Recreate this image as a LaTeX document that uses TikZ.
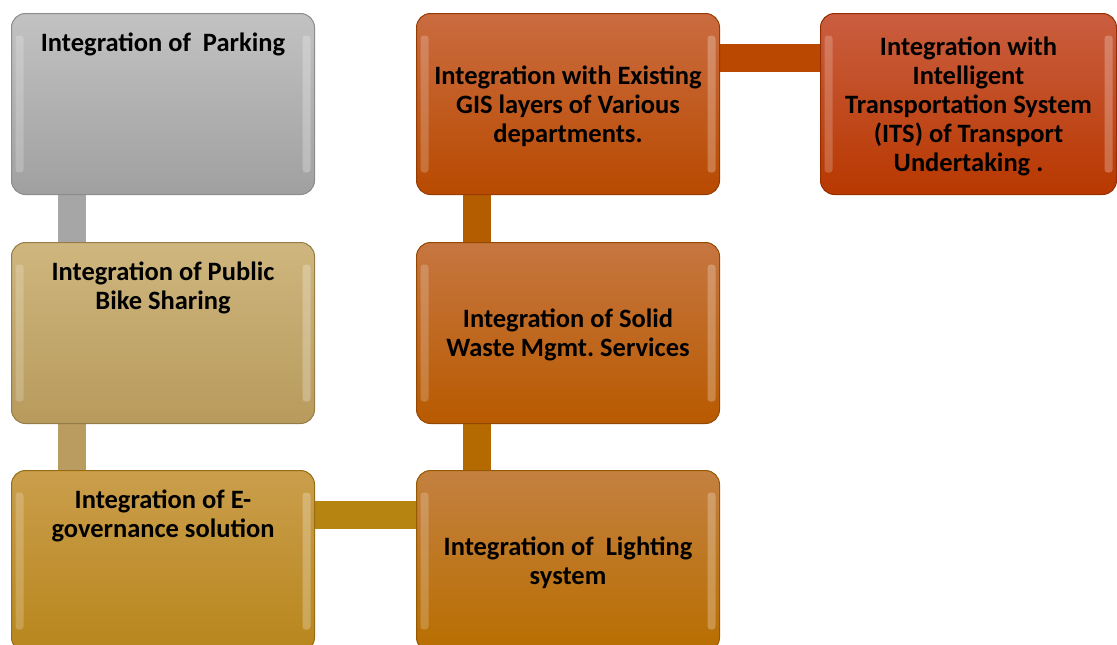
\documentclass[tikz,border=0pt]{standalone}
\usepackage{fontspec}
\setmainfont{Carlito}
\frenchspacing
\usetikzlibrary{positioning,backgrounds}

\definecolor{greytop}{RGB}{194,194,194}
\definecolor{greybot}{RGB}{160,160,160}
\definecolor{greyedge}{RGB}{140,140,140}
\definecolor{greybar}{RGB}{166,166,166}
\definecolor{tantop}{RGB}{206,182,126}
\definecolor{tanbot}{RGB}{184,154,92}
\definecolor{tanedge}{RGB}{150,124,70}
\definecolor{tanbar}{RGB}{186,156,96}
\definecolor{goldtop}{RGB}{202,158,76}
\definecolor{goldbot}{RGB}{184,134,28}
\definecolor{goldedge}{RGB}{150,108,20}
\definecolor{goldbar}{RGB}{182,132,16}
\definecolor{lamptop}{RGB}{196,128,64}
\definecolor{lampbot}{RGB}{184,110,0}
\definecolor{lampedge}{RGB}{150,88,0}
\definecolor{lampbar}{RGB}{180,106,0}
\definecolor{wastetop}{RGB}{198,118,64}
\definecolor{wastebot}{RGB}{184,90,0}
\definecolor{wasteedge}{RGB}{150,72,0}
\definecolor{wastebar}{RGB}{180,92,0}
\definecolor{gistop}{RGB}{202,108,64}
\definecolor{gisbot}{RGB}{184,74,0}
\definecolor{gisedge}{RGB}{150,60,0}
\definecolor{gisbar}{RGB}{186,72,0}
\definecolor{itstop}{RGB}{202,94,64}
\definecolor{itsbot}{RGB}{184,56,0}
\definecolor{itsedge}{RGB}{150,46,0}

\begin{document}
\begin{tikzpicture}[x=1pt, y=-1pt,
	box/.style={draw=#1edge, line width=1pt, rounded corners=14pt,
		top color=#1top, bottom color=#1bot, anchor=north west,
		minimum width=303pt, minimum height=181pt, inner sep=0pt,
		path picture={
			\fill[white, opacity=.2, rounded corners=3pt]
				([xshift=4pt, yshift=-22pt]path picture bounding box.north west)
				rectangle ([xshift=12pt, yshift=22pt]path picture bounding box.south west);
			\fill[white, opacity=.25, rounded corners=3pt]
				([xshift=-12pt, yshift=-22pt]path picture bounding box.north east)
				rectangle ([xshift=-4pt, yshift=22pt]path picture bounding box.south east);
		}},
	lbl/.style={font=\bfseries\fontsize{26.5}{29}\selectfont, align=center, inner sep=0pt},
	bar/.style={line width=28pt, draw=#1}]

	\useasboundingbox (0,0) rectangle (1117,645);

	% left column
	\node[box=grey] (park) at (11,13) {};
	\node[box=tan] (bike) at (11,242) {};
	\node[box=gold] (egov) at (11,470) {};
	% middle column
	\node[box=lamp] (lamp) at (416,470) {};
	\node[box=waste] (waste) at (416,242) {};
	\node[box=gis] (gis) at (416,13) {};
	% right
	\node[box=its, minimum width=296pt] (its) at (820,13) {};

	\node[lbl, below=19.5pt of park.north] {Integration of~ Parking};
	\node[lbl, below=19.5pt of bike.north] {Integration of Public\\Bike Sharing};
	\node[lbl, below=19.5pt of egov.north] {Integration of E-\\governance solution};
	\node[lbl, yshift=-2pt] at (lamp.center) {Integration of~ Lighting\\system};
	\node[lbl, yshift=-2pt] at (waste.center) {Integration of Solid\\Waste Mgmt. Services};
	\node[lbl, yshift=-2pt] at (gis.center) {Integration with Existing\\GIS layers of Various\\departments.};
	\node[lbl, yshift=-2pt] at (its.center) {Integration with\\Intelligent\\Transportation System\\(ITS) of Transport\\Undertaking .};

	% connecting bars go behind the boxes
	\begin{scope}[on background layer]
		\draw[bar=greybar] ([xshift=61pt]park.south west) -- ([xshift=61pt]bike.north west);
		\draw[bar=tanbar] ([xshift=61pt]bike.south west) -- ([xshift=61pt]egov.north west);
		\draw[bar=goldbar] ([yshift=-45pt]egov.north east) -- ([yshift=-45pt]lamp.north west);
		\draw[bar=lampbar] ([xshift=61pt]lamp.north west) -- ([xshift=61pt]waste.south west);
		\draw[bar=wastebar] ([xshift=61pt]waste.north west) -- ([xshift=61pt]gis.south west);
		\draw[bar=gisbar] ([yshift=-45pt]gis.north east) -- ([yshift=-45pt]its.north west);
	\end{scope}
\end{tikzpicture}
\end{document}
